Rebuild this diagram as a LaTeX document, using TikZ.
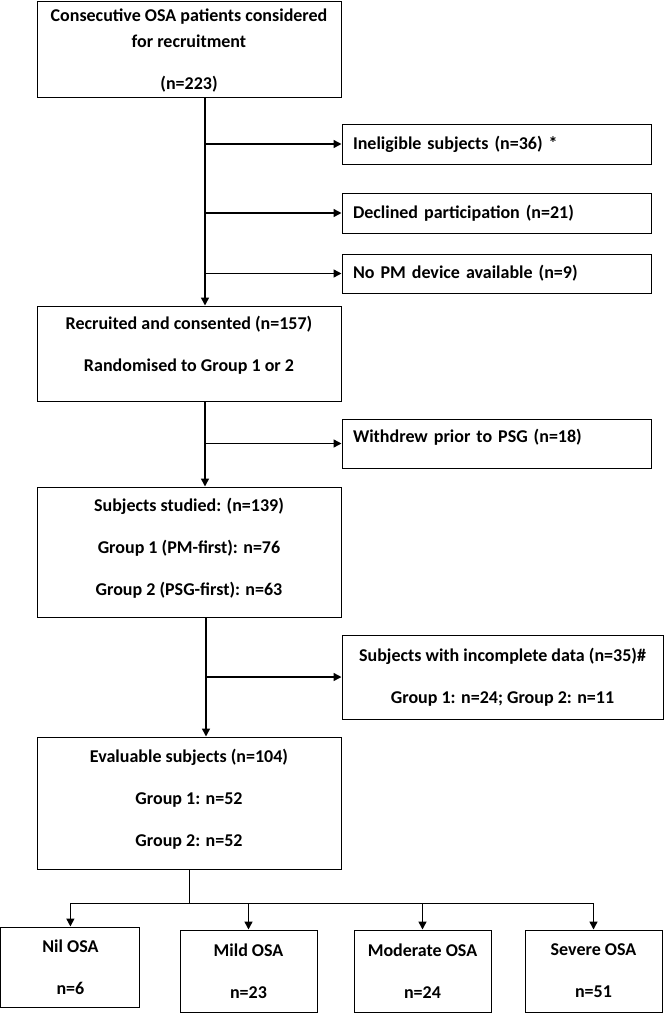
\documentclass[tikz,border=0pt]{standalone}
\usepackage{fontspec}
\setmainfont{Carlito}
\usetikzlibrary{arrows.meta}

\tikzset{
  mainbox/.style = {draw, line width=1pt, minimum width=304pt, align=center, inner sep=0pt},
  sidebox/.style = {draw, line width=1pt, minimum width=309pt, text width=287pt, align=left, inner xsep=11pt, inner ysep=0pt},
  lowbox/.style  = {draw, line width=1pt, minimum width=137pt, minimum height=82pt, align=center, inner sep=0pt},
  flow/.style    = {line width=1.5pt, -{Triangle[length=8pt, width=8pt]}}
}

\begin{document}
\begin{tikzpicture}[x=1pt, y=-1pt, font=\fontsize{18}{26}\selectfont\bfseries]
        \useasboundingbox (0,0) rectangle (664,1013);

        % main column
        \node (consec)  [mainbox, minimum height=96pt, text depth=-3pt] at (189,49) {Consecutive OSA patients considered\\for recruitment\\[16pt](n=223)};
        \node (recruit) [mainbox, minimum height=95pt, text depth=20pt] at (189,353.5) {Recruited and consented (n=157)\\[16pt]Randomised to Group 1 or 2};
        \node (studied) [mainbox, minimum height=130pt, text depth=10pt] at (189,552) {Subjects studied: (n=139)\\[16pt]Group 1 (PM-first): n=76\\[16pt]Group 2 (PSG-first): n=63};
        \node (evalu)   [mainbox, minimum height=132pt, text depth=11pt] at (189,803) {Evaluable subjects (n=104)\\[16pt]Group 1: n=52\\[16pt]Group 2: n=52};

        % exclusions
        \node (inelig)   [sidebox, minimum height=40pt] at (496.5,144)   {Ineligible subjects (n=36) *};
        \node (declined) [sidebox, minimum height=40pt] at (496.5,213)   {Declined participation (n=21)};
        \node (nodevice) [sidebox, minimum height=39pt] at (496.5,273.5) {No PM device available (n=9)};
        \node (withdrew) [sidebox, minimum height=49pt, text depth=16pt] at (496.5,443.5) {Withdrew prior to PSG (n=18)};
        \node (incompl)  [mainbox, minimum width=321pt, minimum height=84pt] at (502.5,677) {Subjects with incomplete data (n=35)\#\\[16pt]Group 1: n=24; Group 2: n=11};

        % severity
        \node (nil)    [lowbox, minimum width=139pt, minimum height=80pt] at (70.4,967) {Nil OSA\\[16pt]n=6};
        \node (mild)   [lowbox] at (248.5,971) {Mild OSA\\[16pt]n=23};
        \node (moder)  [lowbox] at (422.5,971) {Moderate OSA\\[16pt]n=24};
        \node (severe) [lowbox] at (593.5,971) {Severe OSA\\[16pt]n=51};

        % trunks
        \coordinate (t1) at ([xshift=16pt]consec.south);
        \coordinate (t2) at ([xshift=16pt]recruit.south);
        \coordinate (t3) at ([xshift=17pt]studied.south);
        \coordinate (bus) at ([yshift=-34pt]evalu.south);

        \draw[flow] (t1) -- (t1 |- recruit.north);
        \draw[flow] (t1 |- inelig.west)   -- (inelig.west);
        \draw[flow] (t1 |- declined.west) -- (declined.west);
        \draw[flow] (t1 |- nodevice.west) -- (nodevice.west);

        \draw[flow] (t2) -- (t2 |- studied.north);
        \draw[flow] (t2 |- withdrew.west) -- (withdrew.west);

        \draw[flow] (t3) -- (t3 |- evalu.north);
        \draw[flow] (t3 |- incompl.west) -- (incompl.west);

        \draw[line width=1pt] (evalu.south) -- (bus);
        \draw[line width=1.5pt] (nil.north |- bus) -- (severe.north |- bus);
        \foreach \b in {nil, mild, moder, severe}
            \draw[flow] (\b.north |- bus) -- (\b.north);
    \end{tikzpicture}
\end{document}
